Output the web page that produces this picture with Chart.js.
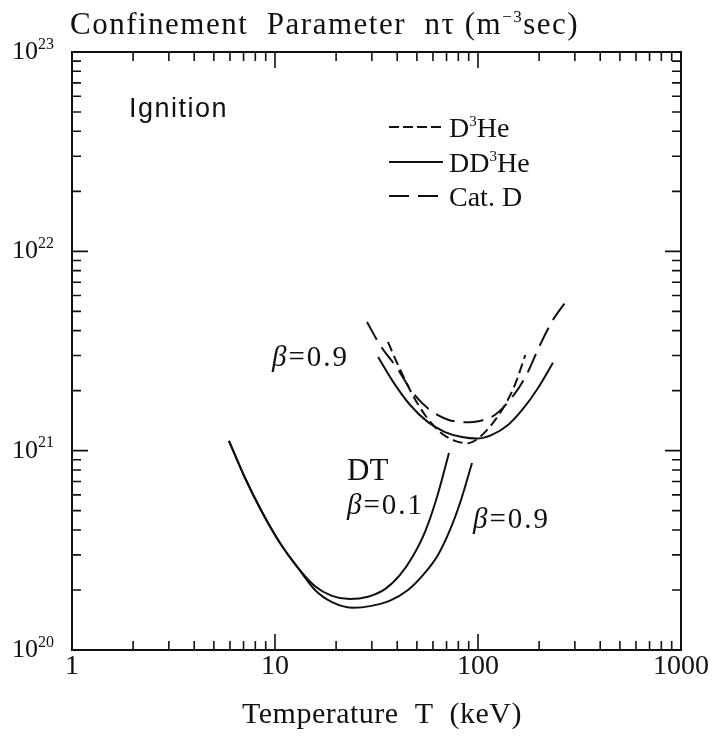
<!DOCTYPE html>
<html>
<head>
<meta charset="utf-8">
<script src="https://cdn.jsdelivr.net/npm/chart.js@4.4.1/dist/chart.umd.min.js"></script>
<style>
  html, body { margin: 0; padding: 0; background: #fff; }
  #wrap { width: 715px; height: 740px; }
</style>
</head>
<body>
<div id="wrap"><canvas id="chart"></canvas></div>
<script>
// temperature T (keV) and confinement parameter n*tau (m^-3 s)
var dtLowT = [5.93, 7.12, 8.63, 10.58, 12.98, 15.74, 19.09, 23.41, 28.72, 34.83, 41.29, 47.84, 54.82, 62.82, 71.95];
var dtLowN = [1.12e21, 7.29e20, 4.92e20, 3.44e20, 2.58e20, 2.09e20, 1.87e20, 1.80e20, 1.85e20, 2.02e20, 2.38e20, 2.96e20, 3.91e20, 5.86e20, 9.74e20];

var dtHighT = [5.93, 7.12, 8.63, 10.58, 12.98, 15.74, 19.09, 24.5, 29.38, 36.86, 45.20, 54.20, 63.53, 72.79, 82.48, 93.42];
var dtHighN = [1.12e21, 7.29e20, 4.92e20, 3.44e20, 2.58e20, 2.00e20, 1.74e20, 1.63e20, 1.66e20, 1.77e20, 2.00e20, 2.41e20, 3.00e20, 4.00e20, 5.66e20, 8.68e20];

var d3heT = [36.0, 39.9, 46.2, 54.8, 65.0, 77.1, 89.3, 102, 118.6, 136, 152, 171];
var d3heN = [3.51e21, 2.76e21, 2.02e21, 1.51e21, 1.24e21, 1.12e21, 1.09e21, 1.17e21, 1.38e21, 1.70e21, 2.14e21, 3.02e21];

var dd3heT = [32.2, 37.7, 46.2, 56.7, 68.8, 83.4, 98.9, 117, 141, 165, 198, 234];
var dd3heN = [2.95e21, 2.26e21, 1.70e21, 1.39e21, 1.24e21, 1.17e21, 1.15e21, 1.20e21, 1.35e21, 1.60e21, 2.07e21, 2.76e21];

var catDT = [28.4, 32.9, 39.9, 47.8, 58.0, 71.2, 86.3, 102, 121, 144, 171, 202, 234, 268];
var catDN = [4.42e21, 3.39e21, 2.60e21, 1.95e21, 1.60e21, 1.43e21, 1.39e21, 1.41e21, 1.51e21, 1.80e21, 2.34e21, 3.39e21, 4.53e21, 5.51e21];

var xTicks = [1, 10, 100, 1000];
var yTicks = [20, 21, 22, 23]; // exponents

var ink = "#111";
var serif = '"Liberation Serif", "DejaVu Serif", serif';
var sans = '"Liberation Sans", "DejaVu Sans", sans-serif';

function pts(xs, ys) {
    return xs.map(function (v, i) { return { x: v, y: ys[i] }; });
}

function curve(xs, ys, dash) {
    return {
        data: pts(xs, ys),
        borderColor: ink,
        borderWidth: 2,
        borderDash: dash,
        pointRadius: 0,
        fill: false,
        cubicInterpolationMode: "monotone"
    };
}

// text with a superscript tail, e.g. 10^23
function supText(ctx, base, sup, x, y, size, supSize, align) {
    ctx.font = size + "px " + serif;
    var w1 = ctx.measureText(base).width;
    ctx.font = supSize + "px " + serif;
    var w2 = ctx.measureText(sup).width;
    var x0 = x;
    if (align === "right") x0 = x - w1 - w2;
    if (align === "center") x0 = x - (w1 + w2) / 2;
    ctx.textAlign = "left";
    ctx.textBaseline = "alphabetic";
    ctx.font = size + "px " + serif;
    ctx.fillText(base, x0, y);
    ctx.font = supSize + "px " + serif;
    ctx.fillText(sup, x0 + w1, y - size * 0.4);
    return x0 + w1 + w2;
}

function beta(ctx, rest, x, y) {
    ctx.textAlign = "left";
    ctx.textBaseline = "alphabetic";
    ctx.font = "italic 29px " + serif;
    ctx.fillText("\u03b2", x, y);
    var w = ctx.measureText("\u03b2").width;
    ctx.font = "29px " + serif;
    ctx.letterSpacing = "2px";
    ctx.fillText(rest, x + w + 2, y);
    ctx.letterSpacing = "0px";
}

var framePlugin = {
    id: "frame",
    afterDraw: function (chart) {
        var ctx = chart.ctx;
        var a = chart.chartArea;
        var xs = chart.scales.x;
        var ys = chart.scales.y;
        ctx.save();
        ctx.strokeStyle = ink;
        ctx.fillStyle = ink;
        ctx.lineWidth = 2;
        ctx.strokeRect(a.left, a.top, a.right - a.left, a.bottom - a.top);

        // inward ticks on all four sides
        ctx.lineWidth = 1.6;
        ctx.beginPath();
        for (var d = 1; d < 1000; d *= 10) {
            for (var m = 1; m <= 10; m++) {
                var px = xs.getPixelForValue(m * d);
                var len = (m === 1 || m === 10) ? 16 : 9;
                ctx.moveTo(px, a.bottom); ctx.lineTo(px, a.bottom - len);
                ctx.moveTo(px, a.top); ctx.lineTo(px, a.top + len);
            }
        }
        for (var e = 20; e < 23; e++) {
            for (var k = 1; k <= 10; k++) {
                var py = ys.getPixelForValue(k * Math.pow(10, e));
                var l2 = (k === 1 || k === 10) ? 16 : 9;
                ctx.moveTo(a.left, py); ctx.lineTo(a.left + l2, py);
                ctx.moveTo(a.right, py); ctx.lineTo(a.right - l2, py);
            }
        }
        ctx.stroke();

        // axis numbers
        ctx.textAlign = "center";
        ctx.textBaseline = "middle";
        ctx.font = "28px " + serif;
        xTicks.forEach(function (t) {
            ctx.fillText(String(t), xs.getPixelForValue(t), a.bottom + 17);
        });
        yTicks.forEach(function (p) {
            supText(ctx, "10", String(p), a.left - 18, ys.getPixelForValue(Math.pow(10, p)) + 7, 26, 16, "right");
        });

        // titles
        ctx.letterSpacing = "1.5px";
        var tx = supText(ctx, "Confinement  Parameter  n\u03c4 (m", "\u22123", 70, 34, 31, 17, "left");
        ctx.font = "31px " + serif;
        ctx.fillText("sec)", tx, 34);
        ctx.letterSpacing = "0.5px";
        ctx.textAlign = "center";
        ctx.font = "30px " + serif;
        ctx.fillText("Temperature  T  (keV)", 382, 723);
        ctx.letterSpacing = "0px";

        // annotations inside the plot
        ctx.textAlign = "left";
        ctx.font = "27px " + sans;
        ctx.letterSpacing = "1.5px";
        ctx.fillText("Ignition", 129, 117);
        ctx.letterSpacing = "0px";
        ctx.font = "31px " + serif;
        ctx.fillText("DT", 347, 480);
        beta(ctx, "=0.9", 272, 366);
        beta(ctx, "=0.1", 347, 514);
        beta(ctx, "=0.9", 473, 528);

        // legend
        var rows = [
            { y: 127, dash: [10, 4], txt: ["D", "3", "He"] },
            { y: 162, dash: [], txt: ["DD", "3", "He"] },
            { y: 196, dash: [20, 9], txt: ["Cat. D", "", ""] }
        ];
        rows.forEach(function (r) {
            ctx.lineWidth = 2;
            ctx.setLineDash(r.dash);
            ctx.beginPath();
            ctx.moveTo(389, r.y);
            ctx.lineTo(443, r.y);
            ctx.stroke();
            ctx.setLineDash([]);
            var ex = supText(ctx, r.txt[0], r.txt[1], 449, r.y + 10, 28, 15, "left");
            ctx.font = "28px " + serif;
            ctx.fillText(r.txt[2], ex, r.y + 10);
        });
        ctx.restore();
    }
};

new Chart(document.getElementById("chart").getContext("2d"), {
    type: "line",
    data: {
        datasets: [
            curve(dtLowT, dtLowN, []),
            curve(dtHighT, dtHighN, []),
            curve(d3heT, d3heN, [10, 5]),
            curve(dd3heT, dd3heN, []),
            curve(catDT, catDN, [20, 9])
        ]
    },
    plugins: [framePlugin],
    options: {
        responsive: true,
        maintainAspectRatio: false,
        animation: false,
        layout: { padding: { left: 72, right: 34, top: 52, bottom: 90 } },
        scales: {
            x: { type: "logarithmic", min: 1, max: 1000, display: false },
            y: { type: "logarithmic", min: 1e20, max: 1e23, display: false }
        },
        plugins: {
            legend: { display: false },
            tooltip: { enabled: false }
        }
    }
});
</script>
</body>
</html>
